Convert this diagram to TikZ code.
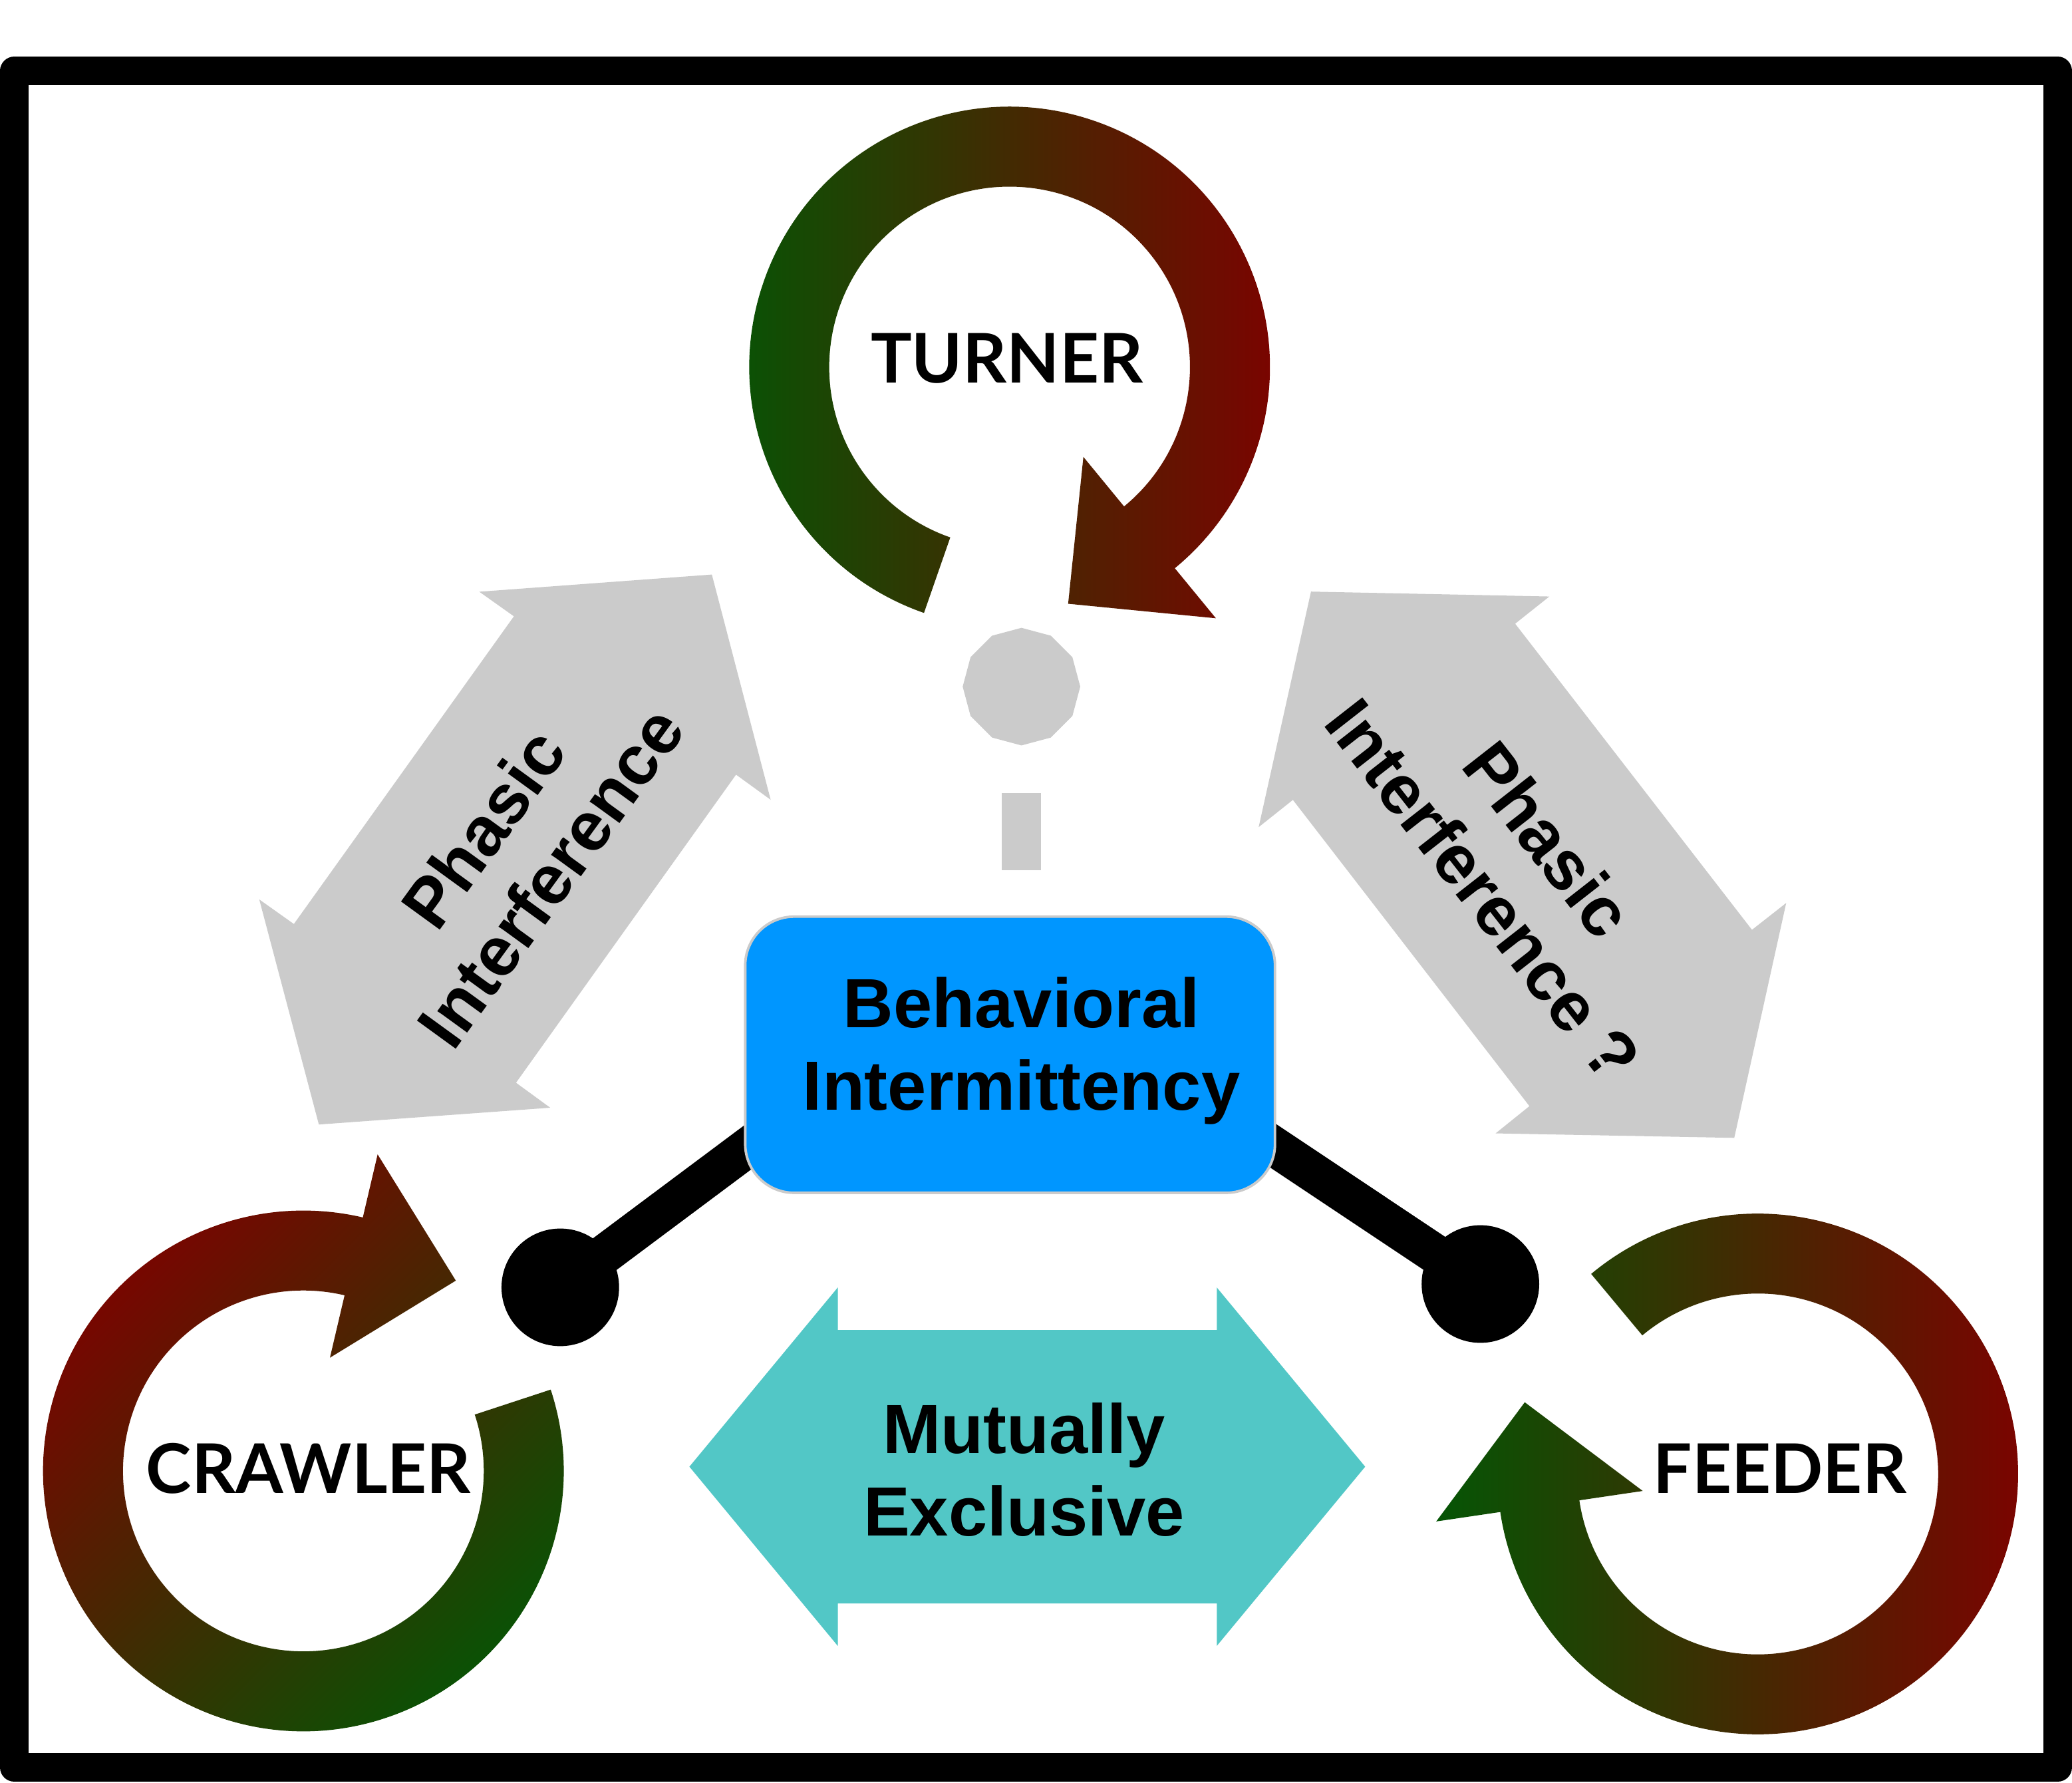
\documentclass[tikz,border=0pt]{standalone}
\usepackage{fontspec}
\setmainfont{Liberation Sans}
\newfontfamily\latofont{Lato}
\usepackage{xcolor}
\usetikzlibrary{shapes.geometric}
\definecolor{loop-green}{RGB}{5,85,5}
\definecolor{loop-red}{RGB}{128,0,0}
\definecolor{phase-gray}{RGB}{203,203,203}
\definecolor{box-blue}{RGB}{0,150,255}
\definecolor{excl-teal}{RGB}{82,199,198}
\tikzset{
    loop-label/.style = {font={\latofont\bfseries\fontsize{29.5}{29.5}\selectfont}, inner sep=0pt},
    arial-text/.style = {font={\bfseries\fontsize{30}{35.5}\selectfont}, align=center, inner sep=0pt},
    blue-box/.style = {draw=phase-gray, fill=box-blue, line width=1.1pt, rectangle, rounded corners=0.74cm, minimum width=8.02cm, minimum height=4.18cm},
    gray-bit/.style = {fill=phase-gray, inner sep=0pt, outer sep=0pt},
    end-dot/.style = {circle, fill=black, minimum size=1.78cm, inner sep=0pt},
    link/.style = {line width=17pt},
}
\newcommand{\looparrow}[3]{%
  \path[#3, shift={#1}] (#2:197) arc[start angle=#2, delta angle=301.4, radius=197]
    -- (#2+301.4:246) -- (#2+326.9:184.5) -- (#2+301.4:88) -- (#2+301.4:136.5)
    arc[start angle=#2+301.4, delta angle=-301.4, radius=136.5] -- cycle;}

\begin{document}
\begin{tikzpicture}[x=0.02cm, y=-0.02cm]
\useasboundingbox (0,0) rectangle (1568,1349);
\draw[line width=12.3pt, line join=round] (10.9,53.6) rectangle (1557.1,1337.3);

\fill[phase-gray] (362.7,447.7) -- (538.7,434.7) -- (583.2,605.1) -- (557.0,586.1) -- (390.5,819.2)
    -- (416.4,838.1) -- (241.3,850.8) -- (196.2,680.5) -- (222.4,699.1) -- (388.9,466.3) -- cycle;
\fill[phase-gray] (992.1,447.6) -- (1172.5,451.3) -- (1146.6,471.9) -- (1325.8,703.5) -- (1351.7,683.2)
    -- (1312.4,860.9) -- (1131.8,857.5) -- (1157.4,836.9) -- (978.4,605.2) -- (952.5,625.8) -- cycle;
\fill[excl-teal] (521.7,1109.7) -- (634,974.1) -- (634,1006.3) -- (920.8,1006.3) -- (920.8,974.1) -- (1033.1,1109.7)
    -- (920.8,1245.3) -- (920.8,1213.2) -- (634,1213.2) -- (634,1245.3) -- cycle;

\looparrow{(764,277.7)}{109.2}{left color=loop-green, right color=loop-red}
\looparrow{(229.6,1112.9)}{-18.2}{top color=loop-red, bottom color=loop-green, shading angle=45}
\looparrow{(1330.2,1115.2)}{230.2}{left color=loop-green, right color=loop-red}

\node[loop-label] (turner) at (762,271) {TURNER};
\node[loop-label] (crawler) at (233.5,1111) {CRAWLER};
\node[loop-label] (feeder) at (1347,1111) {FEEDER};

\node[gray-bit, regular polygon, regular polygon sides=12, shape border rotate=15, minimum size=1.78cm] (hub) at (773,519.5) {};
\node[gray-bit, minimum width=0.6cm, minimum height=1.17cm] (stub) at (773,629) {};

\coordinate (crawl-pin) at (424,974);
\coordinate (feed-pin) at (1120.3,971.5);
\coordinate (crawl-end) at (600,842.6);
\coordinate (feed-end) at (930,844.6);
\draw[link] (crawl-pin) -- (crawl-end);
\draw[link] (feed-pin) -- (feed-end);
\node[end-dot] (crawl-dot) at (crawl-pin) {};
\node[end-dot] (feed-dot) at (feed-pin) {};

\node[blue-box] (box) at (764.4,798) {};
\node[arial-text] (behav) at (773,795) {Behavioral\\Intermittency};
\node[arial-text] (mutex) at (775,1112) {Mutually\\Exclusive};
\node[arial-text, rotate=54] (phase-left) at (391,645) {Phasic\\Interference};
\node[arial-text, rotate=-52] (phase-right) at (1147,654) {Phasic\\Interference ?};
\end{tikzpicture}
\end{document}
